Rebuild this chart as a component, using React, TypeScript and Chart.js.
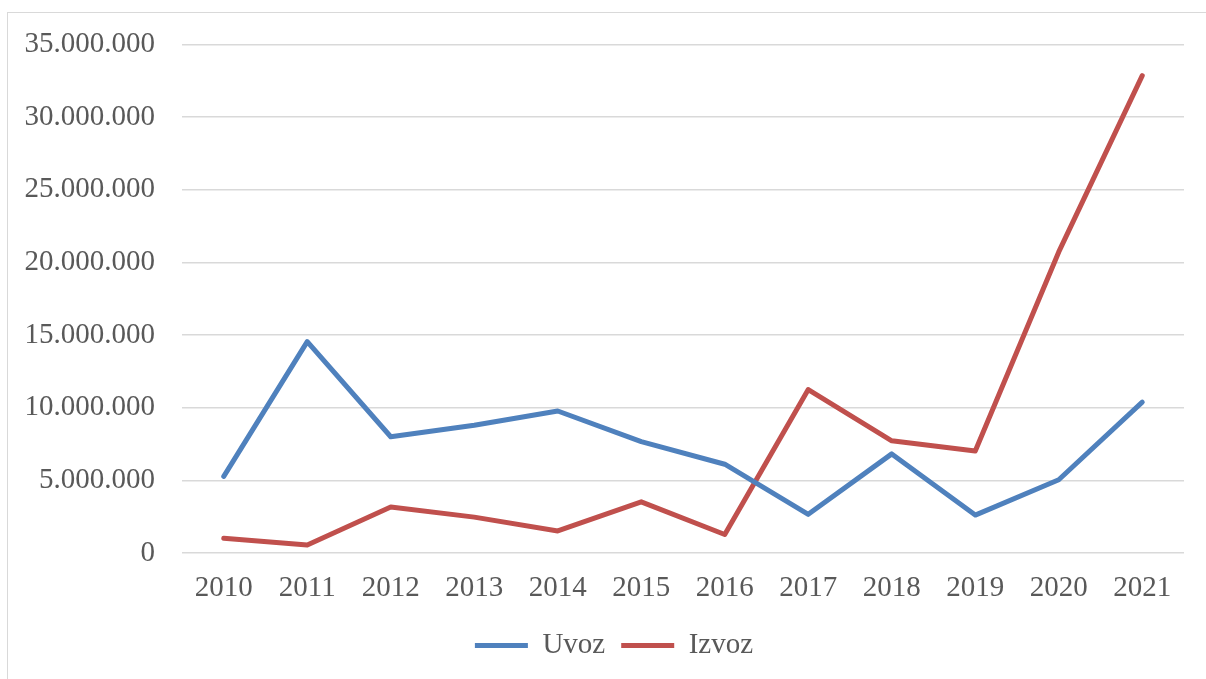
import React, { useEffect, useRef } from "react";
import { Chart, registerables } from "chart.js";

Chart.register(...registerables);

const years = ["2010", "2011", "2012", "2013", "2014", "2015", "2016", "2017", "2018", "2019", "2020", "2021"];
const uvoz = [5270000, 14550000, 8000000, 8790000, 9770000, 7660000, 6110000, 2660000, 6820000, 2610000, 5040000, 10380000];
const izvoz = [1020000, 550000, 3160000, 2470000, 1520000, 3520000, 1270000, 11250000, 7720000, 7020000, 20720000, 32850000];
const yMin = 0;
const yMax = 35000000;
const yStep = 5000000;

const FONT = "'Liberation Serif', 'Times New Roman', serif";
const TEXT = "#595959";
const GRID = "#d9d9d9";
const FS = 29;

function fmt(v: number): string {
  return String(Math.round(v)).replace(/\B(?=(\d{3})+(?!\d))/g, ".");
}

export default function App() {
  const ref = useRef<HTMLCanvasElement | null>(null);
  useEffect(() => {
    if (!ref.current) return;
    const chart = new Chart(ref.current, {
      type: "line",
      data: {
        labels: years,
        datasets: [
          {
            label: "Uvoz",
            data: uvoz,
            borderColor: "#4f81bd",
            backgroundColor: "#4f81bd",
            borderWidth: 5,
            borderCapStyle: "round",
            borderJoinStyle: "round",
            pointRadius: 0,
            tension: 0,
          },
          {
            label: "Izvoz",
            data: izvoz,
            borderColor: "#c0504d",
            backgroundColor: "#c0504d",
            borderWidth: 5,
            borderCapStyle: "round",
            borderJoinStyle: "round",
            pointRadius: 0,
            tension: 0,
          },
        ],
      },
      options: {
        animation: false,
        responsive: false,
        maintainAspectRatio: false,
        layout: { padding: { left: 0, right: 0, top: 38, bottom: 0 } },
        plugins: {
          tooltip: { enabled: false },
          legend: {
            position: "bottom",
            labels: {
              usePointStyle: true,
              pointStyle: "line",
              pointStyleWidth: 53,
              padding: 16,
              color: TEXT,
              font: { family: FONT, size: FS, lineHeight: 1 },
            },
          },
        },
        scales: {
          x: {
            offset: true,
            grid: { display: false, drawTicks: false },
            border: { display: false },
            ticks: {
              padding: 18,
              color: TEXT,
              font: { family: FONT, size: FS },
              maxRotation: 0,
              autoSkip: false,
            },
            afterFit: (s: any) => {
              s.height = 62;
            },
          },
          y: {
            min: yMin,
            max: yMax,
            grid: { color: GRID, lineWidth: 1.5, drawTicks: false },
            border: { display: false },
            ticks: {
              stepSize: yStep,
              padding: 27,
              color: TEXT,
              font: { family: FONT, size: FS },
              callback: (v: any) => fmt(Number(v)),
            },
            afterFit: (s: any) => {
              s.width = 182;
            },
          },
          yRight: {
            position: "right",
            display: true,
            grid: { display: false, drawTicks: false },
            border: { display: false },
            ticks: { display: false },
            afterFit: (s: any) => {
              s.width = 44;
            },
          },
        },
      },
    });
    return () => chart.destroy();
  }, []);

  return (
    <div
      style={{
        position: "fixed",
        left: 0,
        top: 0,
        width: 1206,
        height: 679,
        overflow: "hidden",
        background: "#fff",
      }}
    >
      <div
        style={{
          position: "absolute",
          left: 7,
          top: 12,
          width: 1250,
          height: 700,
          border: "1.5px solid #d9d9d9",
        }}
      />
      <canvas
        ref={ref}
        width={1228}
        height={670}
        style={{ position: "absolute", left: 0, top: 0, width: 1228, height: 670 }}
      />
    </div>
  );
}
